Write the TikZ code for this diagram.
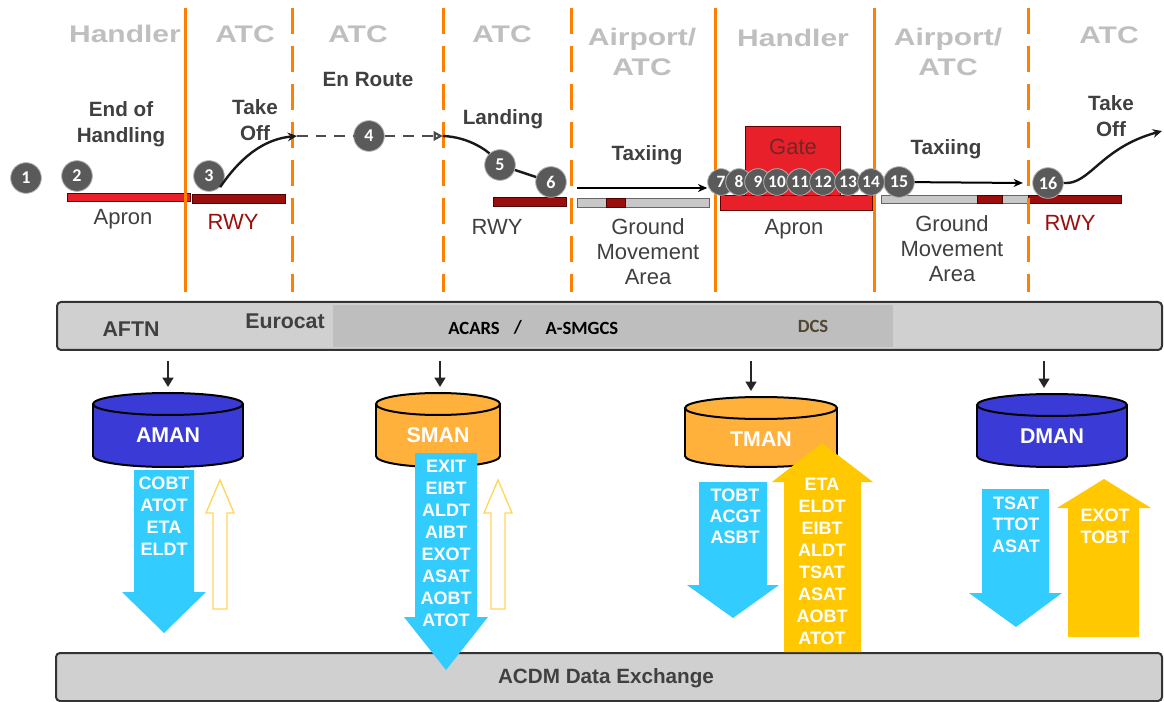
\documentclass[tikz,border=0pt]{standalone}
\usepackage{fontspec}
\setmainfont{Liberation Sans}
\newfontfamily\headfont[FakeStretch=1.25]{Liberation Sans}
\newfontfamily\calfont{Carlito}
\usetikzlibrary{arrows.meta,fit}

\definecolor{divorange}{RGB}{255,128,0}
\definecolor{headgray}{RGB}{191,191,191}
\definecolor{labelgray}{RGB}{64,64,64}
\definecolor{apronred}{RGB}{232,32,42}
\definecolor{rwyred}{RGB}{155,14,14}
\definecolor{gmagray}{RGB}{200,200,200}
\definecolor{stopgray}{RGB}{90,90,90}
\definecolor{barfill}{RGB}{208,208,208}
\definecolor{bardark}{RGB}{190,190,190}
\definecolor{dcsbrown}{RGB}{80,70,50}
\definecolor{gatetext}{RGB}{110,40,40}
\definecolor{manblue}{RGB}{58,58,214}
\definecolor{manorange}{RGB}{255,177,59}
\definecolor{flowcyan}{RGB}{51,204,255}
\definecolor{flowyellow}{RGB}{255,200,0}
\definecolor{hintyellow}{RGB}{255,214,90}

\tikzset{
  phase head/.style={text=headgray, font=\headfont\bfseries\fontsize{18}{22.5}\selectfont, align=center},
  phase/.style={text=labelgray, font=\bfseries\fontsize{15.5}{19.5}\selectfont, align=center},
  area/.style={text=labelgray, font=\fontsize{16.5}{18.75}\selectfont, align=center},
  rwy label/.style={area, text=rwyred},
  divider/.style={draw=divorange, line width=2.25pt},
  divider dashed/.style={divider, dash pattern=on 19.5pt off 9pt},
  apron/.style={fill=apronred, draw=red!40!black, line width=0.6pt},
  rwy/.style={fill=rwyred, draw=red!30!black, line width=0.6pt},
  gma/.style={fill=gmagray, draw=black!60, line width=0.6pt},
  stop circle/.style={circle, fill=stopgray, draw=black!30, line width=0.6pt, minimum size=23pt, inner sep=0pt, text=white, font=\calfont\bfseries\fontsize{13.5}{13.5}\selectfont},
  stop small/.style={stop circle, minimum size=20pt, font=\calfont\bfseries\fontsize{13}{13}\selectfont},
  flight line/.style={draw=black!90, line width=1.8pt},
  flight/.style={flight line, -{Stealth[length=7pt, width=6.5pt]}},
  route/.style={draw=black!70, line width=1.6pt, dash pattern=on 8pt off 6pt},
  taxi/.style={draw=black, line width=1.5pt, -{Stealth[length=7pt, width=6pt]}},
  sysbar/.style={draw=black!80, line width=1.5pt, fill=barfill, rounded corners=3pt, inner sep=0pt},
  sys text/.style={text=labelgray, font=\bfseries\fontsize{16}{16}\selectfont},
  sys small/.style={text=black, font=\calfont\bfseries\fontsize{14}{14}\selectfont},
  feed/.style={draw=black!85, line width=1.5pt, -{Triangle[length=7pt, width=8pt]}, shorten <=7.5pt, shorten >=4.5pt},
  db/.style={draw=black, line width=1.5pt},
  db label/.style={text=white, font=\bfseries\fontsize{16}{16}\selectfont},
  out flow/.style={fill=flowcyan},
  in flow/.style={fill=flowyellow},
  in hint/.style={draw=hintyellow, fill=white, line width=1pt},
  flow text/.style={text=white, font=\bfseries\fontsize{13.5}{13.5}\selectfont},
}

\begin{document}
\begin{tikzpicture}[x=0.75pt, y=-0.75pt]
  \fill[white] (0,0) rectangle (1164,702);
  \useasboundingbox (0,0) rectangle (1164,702);

  % Phase headers
  \node[phase head] (head-1) at (125,34) {Handler};
  \node[phase head] (head-2) at (245,34) {ATC};
  \node[phase head] (head-3) at (358,34) {ATC};
  \node[phase head] (head-4) at (502,34) {ATC};
  \node[phase head] (head-5) at (642,52) {Airport/\\ATC};
  \node[phase head] (head-6) at (793,38) {Handler};
  \node[phase head] (head-7) at (948,52) {Airport/\\ATC};
  \node[phase head] (head-8) at (1109,35) {ATC};

  % Flight phases
  \node[phase] (end-handling) at (121,124) {End of\\Handling};
  \node[phase] (take-off-1) at (255,120) {Take\\Off};
  \node[phase] (en-route) at (368,79) {En Route};
  \node[phase] (landing) at (503,119) {Landing};
  \node[phase] (taxi-in) at (647,155) {Taxiing};
  \node[phase] (taxi-out) at (946,149) {Taxiing};
  \node[phase] (take-off-2) at (1111,116) {Take\\Off};

  % Ground surfaces
  \draw[apron] (67,193) rectangle (190,201);
  \draw[rwy] (192,194) rectangle (285,203);
  \draw[rwy] (493,197) rectangle (566,206);
  \draw[gma] (577,198) rectangle (709,207);
  \draw[rwy] (606,198) rectangle (625,207);
  \draw[apron] (745,126) rectangle (840,197);
  \draw[apron] (720,195) rectangle (872,210);
  \draw[gma] (881,195) rectangle (1028,203);
  \draw[rwy] (977,195) rectangle (1002,203);
  \draw[rwy] (1028,195) rectangle (1121,203);

  \node[area] (apron-1) at (123,219) {Apron};
  \node[rwy label] (rwy-1) at (233,222) {RWY};
  \node[area] (rwy-2) at (497,227) {RWY};
  \node[area] (gma-1) at (648,252) {Ground\\Movement\\Area};
  \node[area, text=gatetext] (gate) at (793,147) {Gate};
  \node[area] (apron-2) at (794,229) {Apron};
  \node[area] (gma-2) at (952,249) {Ground\\Movement\\Area};
  \node[rwy label] (rwy-3) at (1070,223) {RWY};

  % Responsibility borders
  \foreach \x in {185,715,874}
    \draw[divider] (\x,8) -- (\x,292);
  \foreach \x in {292,443,571,1028}
    \draw[divider dashed] (\x,8) -- (\x,292);

  % Milestones
  \foreach \n/\x/\y in {1/26/178, 2/77/176, 3/209/176, 4/369/136, 5/500/165, 6/551/182, 15/899/182, 16/1048/183}
    \node[stop circle] (s\n) at (\x,\y) {\n};
  \foreach \n/\x in {7/721, 8/739, 9/758, 10/777, 11/800, 12/823, 13/848, 14/871}
    \node[stop small] (s\n) at (\x,182) {\n};

  % Flight path
  \coordinate (toc) at (297,136);
  \coordinate (tod) at (443,136);
  \coordinate (taxi-start) at (577,188);
  \coordinate (exit) at (1162,131);
  \draw[flight] (s3.south east) .. controls (232,170) and (255,140) .. (toc);
  \draw[route] (toc) -- (s4);
  \draw[route, -{Triangle[open, length=7pt, width=7pt]}] (s4) -- (tod);
  \draw[flight line] (tod) .. controls (470,137) and (488,152) .. (s5);
  \draw[flight line] (s5) -- (s6);
  \draw[taxi] (taxi-start) -- (s7.west |- taxi-start);
  \draw[taxi] (s15) -- ([xshift=-7pt]s16.west);
  \draw[flight] (s16.east) .. controls (1090,185) and (1100,148) .. (exit);

  % Systems bar
  \node[sysbar, fit={(57,302) (1162,350)}] (sys) {};
  \fill[bardark] (333,305) rectangle (893,347);
  \node[sys text] (aftn) at (131,329) {AFTN};
  \node[sys text] (eurocat) at (285,321) {Eurocat};
  \node[sys small] (acars) at (474,328) {ACARS};
  \node[sys small] (slash) at (518,327) {/};
  \node[sys small] (asmgcs) at (582,328) {A-SMGCS};
  \node[sys small, text=dcsbrown] (dcs) at (813,326) {DCS};

  % Data exchange bar
  \node[sysbar, fit={(56,653) (1162,701)}] (acdm) {};
  \node[sys text, font=\bfseries\fontsize{15.5}{15.5}\selectfont] (acdm-label) at (606,678) {ACDM Data Exchange};

  % Managers
  \foreach \nm/\cx/\hw/\ty/\ax/\col/\lbl in {aman/168/75/404/168/manblue/AMAN, sman/438/62/404/440/manorange/SMAN, tman/761/76/408/751/manorange/TMAN, dman/1052/75/405/1044/manblue/DMAN}{
    \filldraw[db, fill=\col] (\cx,456) ellipse [x radius=\hw, y radius=11];
    \fill[\col] (\cx-\hw,\ty) rectangle (\cx+\hw,456);
    \draw[db] (\cx-\hw,\ty) -- (\cx-\hw,456) (\cx+\hw,\ty) -- (\cx+\hw,456);
    \filldraw[db, fill=\col] (\cx,\ty) ellipse [x radius=\hw, y radius=11];
    \node[db label] (\nm) at (\cx,\ty+31) {\lbl};
    \coordinate (\nm-top) at (\ax,\ty-11);
    \draw[feed] (sys.south -| \nm-top) -- (\nm-top);
  }

  % Data flows
  \fill[out flow] (134,470) -- (194,470) -- (194,592) -- (206,592) -- (164,633) -- (122,592) -- (134,592) -- cycle;
  \draw[in hint] (213,609) -- (213,513) -- (206,513) -- (220,480) -- (234,513) -- (227,513) -- (227,609) -- cycle;
  \fill[out flow] (415,453) -- (477,453) -- (477,617) -- (488,617) -- (446,670) -- (404,617) -- (415,617) -- cycle;
  \draw[in hint] (491,609) -- (491,513) -- (484,513) -- (498,480) -- (512,513) -- (505,513) -- (505,609) -- cycle;
  \fill[out flow] (699,482) -- (767,482) -- (767,585) -- (779,585) -- (733,618) -- (687,585) -- (699,585) -- cycle;
  \fill[in flow] (784,652) -- (784,482) -- (772,482) -- (822,443) -- (873,482) -- (861,482) -- (861,652) -- cycle;
  \fill[out flow] (982,489) -- (1049,489) -- (1049,593) -- (1062,593) -- (1016,627) -- (969,593) -- (982,593) -- cycle;
  \fill[in flow] (1068,637) -- (1068,508) -- (1057,508) -- (1104,479) -- (1151,508) -- (1139,508) -- (1139,637) -- cycle;

  \foreach \t [count=\i] in {COBT,ATOT,ETA,ELDT}
    \node[flow text] (aman-out-\i) at (164,461+22*\i) {\t};
  \foreach \t [count=\i] in {EXIT,EIBT,ALDT,AIBT,EXOT,ASAT,AOBT,ATOT}
    \node[flow text] (sman-out-\i) at (446,444+22*\i) {\t};
  \foreach \t [count=\i] in {TOBT,ACGT,ASBT}
    \node[flow text] (tman-out-\i) at (735,474+21*\i) {\t};
  \foreach \t [count=\i] in {ETA,ELDT,EIBT,ALDT,TSAT,ASAT,AOBT,ATOT}
    \node[flow text] (tman-in-\i) at (822,462+22*\i) {\t};
  \foreach \t [count=\i] in {TSAT,TTOT,ASAT}
    \node[flow text] (dman-out-\i) at (1016,481.5+21.5*\i) {\t};
  \foreach \t [count=\i] in {EXOT,TOBT}
    \node[flow text] (dman-in-\i) at (1105,493+22*\i) {\t};
\end{tikzpicture}
\end{document}
